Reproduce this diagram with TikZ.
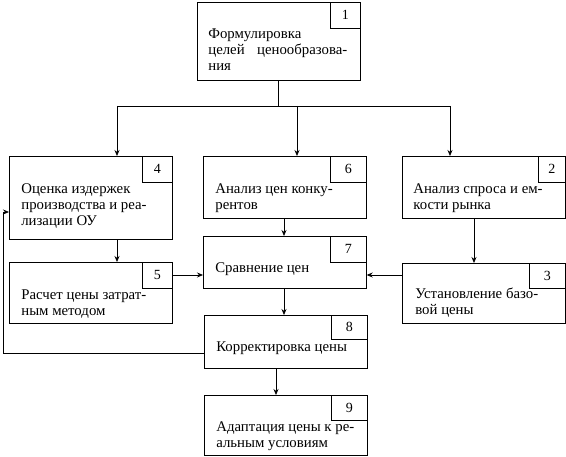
\documentclass[tikz,border=0pt]{standalone}
\usepackage{fontspec}
\setmainfont{Liberation Serif}
\usetikzlibrary{arrows.meta,calc}
\begin{document}
\begin{tikzpicture}[x=1pt,y=-1pt,line width=0.7pt,
  box/.style={draw,rectangle,anchor=north west,minimum width=163pt,inner sep=0pt},
  num/.style={draw,rectangle,anchor=north east,minimum width=30pt,minimum height=26pt,inner sep=0pt,font=\fontsize{14}{16}\selectfont},
  txt/.style={anchor=north west,inner sep=0pt,align=left,font=\fontsize{14.8}{16}\selectfont},
  arr/.style={-{Stealth[length=6pt,width=5pt]}}]
\useasboundingbox (0,0) rectangle (566,457);
% boxes
\node[box,minimum height=78pt] (b1) at (197,2) {};
\node[num] (n1) at (b1.north east) {1};
\node[txt] (t1) at ($(b1.north west)+(11,25)$) {\strut Формулировка\\\makebox[139pt][l]{целей\hfill ценообразова-}\\ния};

\node[box,minimum height=83pt] (b4) at (9,156) {};
\node[num] (n4) at (b4.north east) {4};
\node[txt] (t4) at ($(b4.north west)+(12,26)$) {\strut Оценка издержек\\производства и реа-\\лизации ОУ};

\node[box,minimum height=62pt] (b6) at (203,156) {};
\node[num,minimum width=36pt] (n6) at (b6.north east) {6};
\node[txt] (t6) at ($(b6.north west)+(12,26)$) {\strut Анализ цен конку-\\рентов};

\node[box,minimum height=62pt] (b2) at (402,156) {};
\node[num,minimum width=27pt] (n2) at (b2.north east) {2};
\node[txt] (t2) at ($(b2.north west)+(11,26)$) {\strut Анализ спроса и ем-\\кости рынка};

\node[box,minimum height=61pt] (b5) at (9,262) {};
\node[num] (n5) at (b5.north east) {5};
\node[txt] (t5) at ($(b5.north west)+(12,26)$) {\strut Расчет цены затрат-\\ным методом};

\node[box,minimum height=52pt] (b7) at (203,236) {};
\node[num,minimum width=36pt] (n7) at (b7.north east) {7};
\node[txt] (t7) at ($(b7.north west)+(12,25)$) {\strut Сравнение цен};

\node[box,minimum height=60pt] (b3) at (402,263) {};
\node[num,minimum width=36pt,minimum height=25pt] (n3) at (b3.north east) {3};
\node[txt] (t3) at ($(b3.north west)+(13,24)$) {\strut Установление базо-\\вой цены};

\node[box,minimum height=53pt] (b8) at (204,315) {};
\node[num,minimum width=36pt,minimum height=24pt] (n8) at (b8.north east) {8};
\node[txt] (t8) at ($(b8.north west)+(12,25)$) {\strut Корректировка цены};

\node[box,minimum height=60pt] (b9) at (204,395) {};
\node[num,minimum width=36pt,minimum height=25pt] (n9) at (b9.north east) {9};
\node[txt] (t9) at ($(b9.north west)+(12,25)$) {\strut Адаптация цены к ре-\\альным условиям};

% connectors
\coordinate (split) at (278,106);
\coordinate (sl) at (117,106);
\coordinate (sm) at (297,106);
\coordinate (sr) at (450,106);
\coordinate (fbl) at (3,353);
\coordinate (fbu) at (3,212);
\draw (b1.south -| split) -- (split);
\draw (sl) -- (sr);
\draw[arr] (sl) -- (b4.north -| sl);
\draw[arr] (sm) -- (b6.north -| sm);
\draw[arr] (sr) -- (b2.north -| sr);
\draw[arr] (b4.south -| sl) -- (b5.north -| sl);
\coordinate (c67) at (284,0);
\draw[arr] (b6.south -| c67) -- (b7.north -| c67);
\draw[arr] (b7.south -| c67) -- (b8.north -| c67);
\coordinate (c23) at (474,0);
\draw[arr] (b2.south -| c23) -- (b3.north -| c23);
\coordinate (c57) at (0,275);
\draw[arr] (b5.east |- c57) -- (b7.west |- c57);
\draw[arr] (b3.west |- c57) -- (b7.east |- c57);
\coordinate (c89) at (276,0);
\draw[arr] (b8.south -| c89) -- (b9.north -| c89);
\draw[arr] (b8.west |- fbl) -- (fbl) -- (fbu) -- (b4.west |- fbu);
\end{tikzpicture}
\end{document}
